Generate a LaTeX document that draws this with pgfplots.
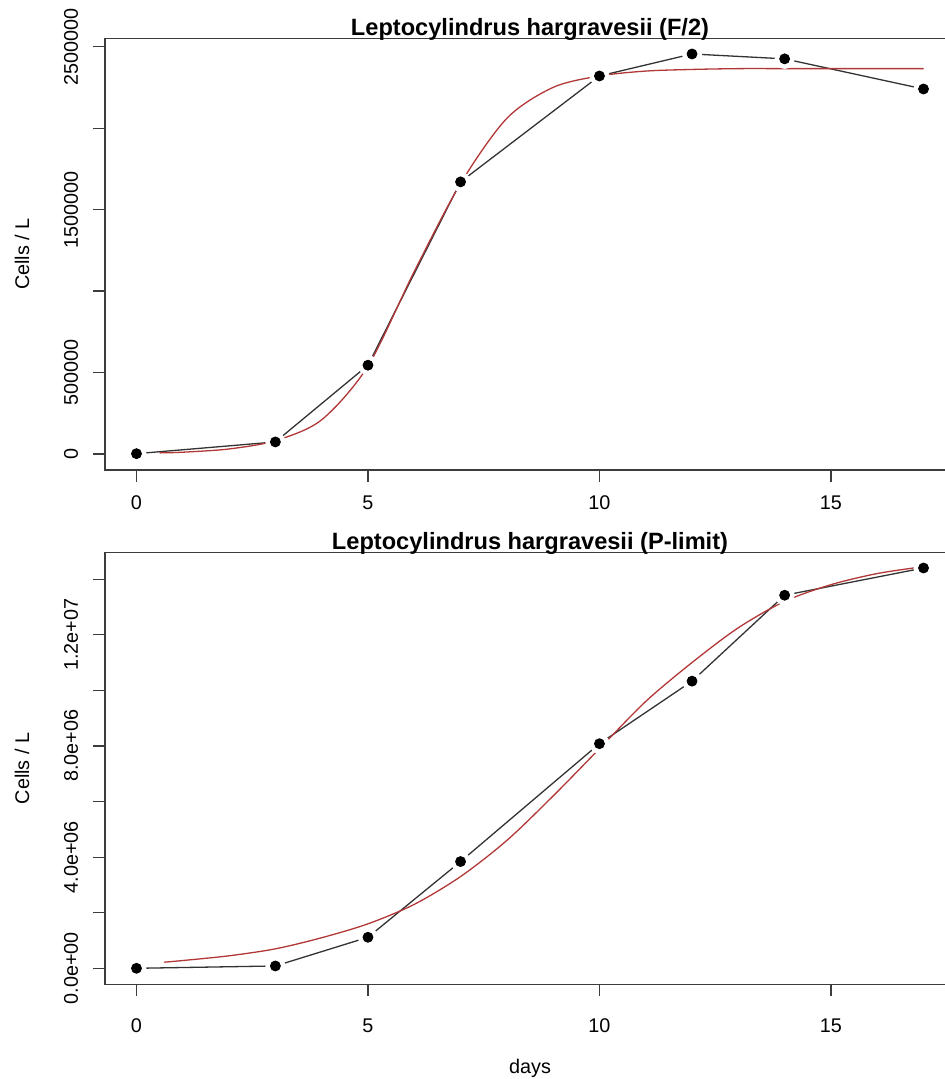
\documentclass[border=0pt]{standalone}
\usepackage{pgfplots}
\pgfplotsset{compat=1.18}
\usepackage{fontspec}
\setmainfont{Liberation Sans}

\definecolor{fitred}{RGB}{178,55,55}
\definecolor{boxgray}{RGB}{60,60,60}

\pgfplotsset{
  rpanel/.style={
    scale only axis, width=425pt, height=215.8pt,
    xmin=-0.68, xmax=17.68,
    tick align=outside, tick pos=left,
    major tick length=6pt,
    axis line style={boxgray, line width=0.6pt},
    every tick/.style={boxgray, line width=0.6pt},
    xtick={0,5,10,15}, xticklabels={0,5,10,15},
    scaled y ticks=false,
    tick label style={font=\fontsize{9.9}{11.5}\selectfont},
    yticklabel style={anchor=center, xshift=-11pt, rotate=90},
    xticklabel style={anchor=center, yshift=-10.5pt},
    title style={font=\bfseries\fontsize{11.8}{14}\selectfont,
      at={(0.5,1)}, anchor=base, yshift=-4.5pt},
    every axis y label/.style={at={(axis description cs:0,0.5)},
      xshift=-41.5pt, rotate=90, anchor=center,
      font=\fontsize{9.9}{11.5}\selectfont},
    every axis x label/.style={at={(axis description cs:0.5,0)},
      yshift=-42pt, anchor=center, font=\fontsize{9.9}{11.5}\selectfont},
  },
  obsline/.style={black!80, line width=0.65pt},
  halo/.style={only marks, mark=*, mark size=4.8pt, white,
    mark options={draw=white, fill=white}},
  dots/.style={only marks, mark=*, mark size=2.5pt, black},
  fitline/.style={fitred, line width=0.65pt, smooth},
}

\begin{document}
\begin{tikzpicture}
\useasboundingbox (0,0) rectangle (472.5pt,-539.5pt);
\clip (0,0) rectangle (472.5pt,-539.5pt);

% F/2
\begin{axis}[rpanel,
  at={(52.5pt,-235pt)}, anchor=south west,
  ymin=-98200, ymax=2550600,
  ytick={0,500000,1000000,1500000,2000000,2500000},
  yticklabels={0,500000,,1500000,,2500000},
  title={Leptocylindrus hargravesii (F/2)},
  ylabel={Cells / L},
]
\addplot[obsline] coordinates {(0,2000) (3,74000) (5,545000) (7,1670000) (10,2320000) (12,2455000) (14,2425000) (17,2240000)};
\addplot[halo] coordinates {(0,2000) (3,74000) (5,545000) (7,1670000) (10,2320000) (12,2455000) (14,2425000) (17,2240000)};
\addplot[dots] coordinates {(0,2000) (3,74000) (5,545000) (7,1670000) (10,2320000) (12,2455000) (14,2425000) (17,2240000)};
\addplot[fitline] coordinates {(0.5,7000) (1,11000) (2,31000) (3,82000) (4,210000) (5,540000) (6,1120000) (7,1660000) (8,2060000) (9,2250000) (10,2320000) (11,2350000) (12,2360000) (13,2365000) (14,2365000) (15,2365000) (16,2365000) (17,2365000)};
\end{axis}

% P-limit
\begin{axis}[rpanel,
  at={(52.5pt,-492.15pt)}, anchor=south west,
  ymin=-576000, ymax=14950000,
  ytick={0,2000000,4000000,6000000,8000000,10000000,12000000,14000000},
  yticklabels={0.0e+00,,4.0e+06,,8.0e+06,,1.2e+07,},
  xticklabel style={yshift=-4pt},
  title={Leptocylindrus hargravesii (P-limit)},
  ylabel={Cells / L},
  xlabel={days},
]
\addplot[obsline] coordinates {(0,0) (3,84000) (5,1116000) (7,3840000) (10,8080000) (12,10330000) (14,13420000) (17,14400000)};
\addplot[halo] coordinates {(0,0) (3,84000) (5,1116000) (7,3840000) (10,8080000) (12,10330000) (14,13420000) (17,14400000)};
\addplot[dots] coordinates {(0,0) (3,84000) (5,1116000) (7,3840000) (10,8080000) (12,10330000) (14,13420000) (17,14400000)};
\addplot[fitline] coordinates {(0.6,220000) (1,280000) (2,450000) (3,700000) (4,1100000) (5,1600000) (6,2300000) (7,3300000) (8,4600000) (9,6200000) (10,7900000) (11,9600000) (12,11000000) (13,12250000) (14,13200000) (15,13800000) (16,14200000) (17,14450000)};
\end{axis}
\end{tikzpicture}
\end{document}
